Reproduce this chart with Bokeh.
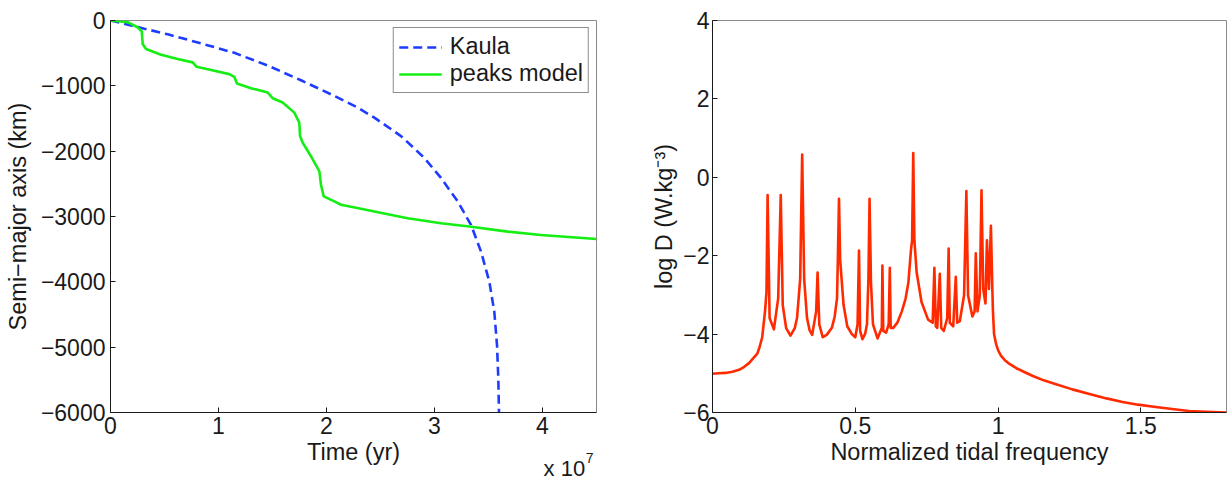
from bokeh.plotting import figure
from bokeh.layouts import row
from bokeh.models import (FixedTicker, Range1d, Label, Legend, LegendItem,
                          CustomJSTickFormatter)
from bokeh.embed import file_html
from bokeh.resources import INLINE

FONT = "Liberation Sans"

# ---------------- Left panel data (time in units of 1e7 yr, change of semi-major axis in km)
kaula_time = [0, 0.19, 0.313, 0.53, 0.838, 1.146, 1.456, 1.764, 2.072, 2.289, 2.443, 2.69,
              2.906, 3.06, 3.215, 3.338, 3.431, 3.508, 3.554, 3.579, 3.591, 3.597]
kaula_axis = [0, -75, -125, -212, -350, -495, -690, -915, -1154, -1333, -1487, -1769,
              -2103, -2410, -2769, -3128, -3538, -4000, -4462, -4974, -5487, -6000]

peaks_time = [0, 0.159, 0.25, 0.289, 0.298, 0.329, 0.468, 0.622, 0.761, 0.798, 0.931, 1.10,
              1.146, 1.171, 1.301, 1.456, 1.502, 1.594, 1.702, 1.748, 1.755, 1.78, 1.856,
              1.934, 1.949, 1.974, 2.072, 2.134, 2.32, 2.443, 2.752, 3.06, 3.322, 3.678,
              3.986, 4.5]
peaks_axis = [0, -26, -103, -164, -359, -436, -523, -590, -641, -708, -759, -821,
              -862, -964, -1036, -1103, -1190, -1256, -1410, -1564, -1769, -1872, -2077,
              -2308, -2513, -2692, -2769, -2820, -2882, -2923, -3026, -3103, -3154, -3231,
              -3282, -3344]

left_xticks = [0, 1, 2, 3, 4]
left_yticks = [-6000, -5000, -4000, -3000, -2000, -1000, 0]

# ---------------- Right panel data (normalized tidal frequency, log D)
freq = [0, 0.02, 0.046, 0.07, 0.093, 0.11, 0.128, 0.14, 0.157, 0.165, 0.174, 0.184, 0.189,
        0.193, 0.2, 0.215, 0.23, 0.239, 0.246, 0.258, 0.273, 0.288, 0.296, 0.307, 0.314,
        0.321, 0.331, 0.34, 0.349, 0.363, 0.368, 0.374, 0.386, 0.4, 0.418, 0.428, 0.436,
        0.439, 0.443, 0.447, 0.459, 0.472, 0.488, 0.5, 0.508, 0.513, 0.517, 0.525, 0.535,
        0.541, 0.546, 0.55, 0.555, 0.562, 0.578, 0.593, 0.595, 0.598, 0.608, 0.617, 0.621,
        0.624, 0.633, 0.648, 0.663, 0.676, 0.686, 0.695, 0.699, 0.703, 0.707, 0.715, 0.732,
        0.755, 0.771, 0.777, 0.782, 0.787, 0.796, 0.801, 0.81, 0.822, 0.827, 0.831, 0.843,
        0.852, 0.857, 0.866, 0.881, 0.889, 0.895, 0.91, 0.918, 0.922, 0.928, 0.936, 0.942,
        0.948, 0.956, 0.961, 0.968, 0.975, 0.98, 0.982, 0.986, 0.993, 1.0, 1.01, 1.023,
        1.04, 1.064, 1.09, 1.122, 1.16, 1.203, 1.26, 1.32, 1.38, 1.436, 1.49, 1.552, 1.61,
        1.668, 1.73, 1.8]
log_d = [-5.01, -5.0, -4.99, -4.96, -4.91, -4.84, -4.74, -4.64, -4.5, -4.33, -4.08, -3.42, -2.93,
         -0.45, -3.59, -3.88, -3.09, -0.45, -3.26, -3.85, -4.04, -3.85, -3.59, -2.6, 0.58,
         -2.6, -3.59, -3.9, -4.02, -3.42, -2.43, -3.75, -4.08, -4.02, -3.84, -3.55, -3.09,
         -2.1, -0.55, -2.1, -3.26, -3.8, -4.0, -4.08, -3.75, -1.87, -3.92, -4.13, -3.98,
         -3.75, -2.6, -0.55, -2.7, -3.75, -4.11, -3.84, -2.25, -3.92, -3.96, -3.75, -2.31,
         -3.84, -3.84, -3.7, -3.42, -3.1, -2.68, -1.86, -1.61, 0.62, -1.61, -2.43, -3.18,
         -3.63, -3.71, -2.31, -3.8, -3.84, -2.46, -3.84, -3.92, -3.59, -1.82, -3.71, -3.8,
         -2.54, -3.71, -3.67, -3.01, -0.35, -3.01, -3.55, -3.42, -1.94, -3.42, -3.01, -0.33,
         -2.85, -3.22, -1.61, -2.85, -1.24, -2.85, -3.4, -4.0, -4.25, -4.41, -4.55, -4.66,
         -4.76, -4.87, -4.96, -5.07, -5.18, -5.28, -5.41, -5.53, -5.64, -5.73, -5.8, -5.86,
         -5.91, -5.96, -5.98, -6.0]

right_xticks = [0, 0.5, 1, 1.5]
right_yticks = [-6, -4, -2, 0, 2, 4]

TICK_FS = "23px"
LABEL_FS = "23.5px"
DARK = "#1a1a1a"
GRAY = "#8a8a8a"

fmt_code = "return String(tick).replace('-', '\u2212');"


def style_fig(p, xticks, yticks, xlabel, ylabel, ylabel_standoff, ytick_standoff):
    p.xgrid.visible = False
    p.ygrid.visible = False
    p.outline_line_color = GRAY
    p.outline_line_width = 1
    p.background_fill_color = "white"
    p.border_fill_color = "white"
    for ax, ticks in ((p.xaxis[0], xticks), (p.yaxis[0], yticks)):
        ax.ticker = FixedTicker(ticks=ticks, minor_ticks=[])
        ax.formatter = CustomJSTickFormatter(code=fmt_code)
        ax.major_tick_in = 5
        ax.major_tick_out = 0
        ax.minor_tick_in = 0
        ax.minor_tick_out = 0
        ax.axis_line_color = DARK
        ax.axis_line_width = 1
        ax.major_tick_line_color = DARK
        ax.major_label_text_font = FONT
        ax.major_label_text_font_size = TICK_FS
        ax.major_label_text_color = DARK
        ax.axis_label_text_font = FONT
        ax.axis_label_text_font_size = LABEL_FS
        ax.axis_label_text_font_style = "normal"
        ax.axis_label_text_color = DARK
    p.xaxis[0].axis_label = xlabel
    p.yaxis[0].axis_label = ylabel
    p.xaxis[0].major_label_standoff = 4
    p.xaxis[0].axis_label_standoff = 2
    p.yaxis[0].major_label_standoff = ytick_standoff
    p.yaxis[0].axis_label_standoff = ylabel_standoff


# ---------------- Left figure
p1 = figure(width=648, height=480, x_range=Range1d(0, 4.5), y_range=Range1d(-6000, 0),
            output_backend="svg", toolbar_location=None,
            min_border_left=110, min_border_right=52, min_border_top=20, min_border_bottom=68)
style_fig(p1, left_xticks, left_yticks, "Time (yr)", "Semi\u2212major axis (km)", 7, 5)

r_k = p1.line(kaula_time, kaula_axis, line_color="#1e3cff", line_width=2.6, line_dash="9 5")
r_p = p1.line(peaks_time, peaks_axis, line_color="#14ee14", line_width=2.6)

legend = Legend(items=[LegendItem(label="Kaula", renderers=[r_k]),
                       LegendItem(label="peaks model", renderers=[r_p])],
                location="top_right", margin=7, padding=5, spacing=0,
                glyph_width=43, glyph_height=20, label_height=20, label_standoff=8,
                label_text_font=FONT, label_text_font_size="23.5px", label_text_color=DARK,
                border_line_color=DARK, border_line_width=1, background_fill_alpha=1)
p1.add_layout(legend)

# exponent of the time axis, kept in a side panel so it is not clipped to the frame
p1.add_layout(Label(x=4.01, y=-6857, text="x 10", text_font=FONT, text_font_size="22px",
                    text_color=DARK, text_baseline="middle", text_align="left"), "right")
p1.add_layout(Label(x=4.40, y=-6700, text="7", text_font=FONT, text_font_size="14px",
                    text_color=DARK, text_baseline="middle", text_align="left"), "right")

# ---------------- Right figure
p2 = figure(width=580, height=480, x_range=Range1d(0, 1.8), y_range=Range1d(-6, 4),
            output_backend="svg", toolbar_location=None,
            min_border_left=64, min_border_right=2, min_border_top=14, min_border_bottom=63)
style_fig(p2, right_xticks, right_yticks, "Normalized tidal frequency",
          "log D (W.kg\u207b\u00b3)", 3, 3)
p2.line(freq, log_d, line_color="#ff2a00", line_width=2.6, line_join="round")

layout = row(p1, p2)
with open("out.html", "w", encoding="utf-8") as f:
    f.write(file_html(layout, INLINE))
